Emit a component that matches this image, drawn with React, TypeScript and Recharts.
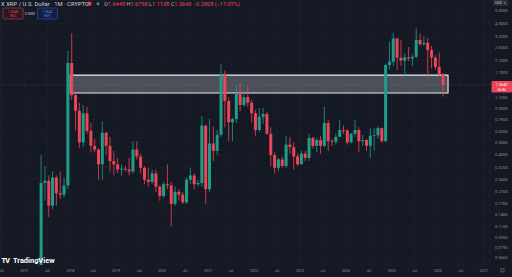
import React from "react"
import {
  ComposedChart,
  Bar,
  XAxis,
  YAxis,
  CartesianGrid,
  ReferenceArea,
  ReferenceLine
} from "recharts"

const W = 512
const H = 277
const BG = "#151924"
const GRID = "#1f2330"
const UP = "#1f9d88"
const DOWN = "#ec4458"
const AXIS_TEXT = "#8d909a"

// monthly candles, XRP / USD
const months = [
  "2017-05", "2017-06", "2017-07", "2017-08", "2017-09", "2017-10", "2017-11", "2017-12",
  "2018-01", "2018-02", "2018-03", "2018-04", "2018-05", "2018-06", "2018-07", "2018-08", "2018-09", "2018-10", "2018-11", "2018-12",
  "2019-01", "2019-02", "2019-03", "2019-04", "2019-05", "2019-06", "2019-07", "2019-08", "2019-09", "2019-10", "2019-11", "2019-12",
  "2020-01", "2020-02", "2020-03", "2020-04", "2020-05", "2020-06", "2020-07", "2020-08", "2020-09", "2020-10", "2020-11", "2020-12",
  "2021-01", "2021-02", "2021-03", "2021-04", "2021-05", "2021-06", "2021-07", "2021-08", "2021-09", "2021-10", "2021-11", "2021-12",
  "2022-01", "2022-02", "2022-03", "2022-04", "2022-05", "2022-06", "2022-07", "2022-08", "2022-09", "2022-10", "2022-11", "2022-12",
  "2023-01", "2023-02", "2023-03", "2023-04", "2023-05", "2023-06", "2023-07", "2023-08", "2023-09", "2023-10", "2023-11", "2023-12",
  "2024-01", "2024-02", "2024-03", "2024-04", "2024-05", "2024-06", "2024-07", "2024-08", "2024-09", "2024-10", "2024-11", "2024-12",
  "2025-01", "2025-02", "2025-03", "2025-04", "2025-05", "2025-06", "2025-07", "2025-08", "2025-09", "2025-10", "2025-11", "2025-12",
  "2026-01", "2026-02"
]

const opens = [
  0.055, 0.245, 0.255, 0.165, 0.27, 0.205, 0.2, 0.235,
  2.0, 1.14, 0.87, 0.5, 0.83, 0.61, 0.47, 0.44, 0.34, 0.59, 0.47, 0.36,
  0.34, 0.31, 0.315, 0.31, 0.3, 0.44, 0.39, 0.32, 0.26, 0.25, 0.29, 0.23,
  0.195, 0.24, 0.235, 0.17, 0.21, 0.2, 0.175, 0.26, 0.28, 0.24, 0.245, 0.67,
  0.22, 0.49, 0.43, 0.57, 1.63, 1.03, 0.71, 0.75, 1.18, 0.96, 1.1, 1.0,
  0.83, 0.62, 0.78, 0.82, 0.58, 0.4, 0.32, 0.37, 0.33, 0.48, 0.46, 0.39,
  0.34, 0.41, 0.38, 0.54, 0.47, 0.52, 0.47, 0.7, 0.51, 0.505, 0.55, 0.62,
  0.615, 0.5, 0.58, 0.62, 0.51, 0.52, 0.47, 0.56, 0.565, 0.64, 0.51, 1.93,
  2.05, 3.08, 2.2, 2.09, 2.21, 2.17, 2.23, 3.0, 2.78, 2.85, 2.51, 2.2,
  1.87, 1.6448
]

const highs = [
  0.4, 0.33, 0.28, 0.3, 0.28, 0.3, 0.27, 2.47,
  3.37, 1.2, 1.0, 0.96, 0.93, 0.7, 0.53, 0.45, 0.72, 0.6, 0.55, 0.43,
  0.38, 0.34, 0.33, 0.38, 0.51, 0.51, 0.41, 0.33, 0.32, 0.31, 0.31, 0.235,
  0.25, 0.34, 0.25, 0.23, 0.22, 0.21, 0.27, 0.32, 0.29, 0.26, 0.79, 0.68,
  0.75, 0.66, 0.62, 1.96, 1.75, 1.1, 0.77, 1.35, 1.41, 1.24, 1.35, 1.05,
  0.88, 0.91, 0.91, 0.85, 0.65, 0.42, 0.38, 0.39, 0.56, 0.55, 0.5, 0.41,
  0.43, 0.43, 0.58, 0.55, 0.54, 0.56, 0.93, 0.74, 0.53, 0.58, 0.74, 0.67,
  0.63, 0.59, 0.74, 0.65, 0.57, 0.53, 0.64, 0.64, 0.66, 0.645, 1.98, 2.91,
  3.4, 3.1, 3.0, 2.36, 2.65, 2.34, 3.66, 3.33, 3.18, 3.1, 2.7, 2.3,
  2.41, 1.6758
]

const lows = [
  0.052, 0.18, 0.135, 0.155, 0.165, 0.185, 0.19, 0.22,
  1.05, 0.62, 0.45, 0.46, 0.58, 0.42, 0.42, 0.26, 0.26, 0.4, 0.3, 0.28,
  0.29, 0.28, 0.3, 0.28, 0.29, 0.37, 0.29, 0.24, 0.23, 0.24, 0.21, 0.18,
  0.19, 0.22, 0.115, 0.165, 0.18, 0.17, 0.17, 0.24, 0.22, 0.23, 0.23, 0.17,
  0.21, 0.36, 0.4, 0.55, 0.65, 0.51, 0.51, 0.7, 0.86, 0.93, 0.93, 0.71,
  0.56, 0.6, 0.69, 0.57, 0.33, 0.29, 0.3, 0.32, 0.32, 0.41, 0.31, 0.33,
  0.34, 0.36, 0.36, 0.45, 0.42, 0.41, 0.46, 0.43, 0.47, 0.48, 0.55, 0.58,
  0.48, 0.49, 0.55, 0.42, 0.47, 0.43, 0.38, 0.43, 0.53, 0.5, 0.5, 1.8,
  1.9, 1.77, 1.9, 1.61, 2.07, 1.9, 2.17, 2.7, 2.7, 1.55, 1.82, 1.77,
  1.6, 1.1138
]

const closes = [
  0.245, 0.255, 0.165, 0.27, 0.205, 0.2, 0.235, 2.0,
  1.14, 0.87, 0.5, 0.83, 0.61, 0.47, 0.44, 0.34, 0.59, 0.47, 0.36, 0.34,
  0.31, 0.315, 0.31, 0.3, 0.44, 0.39, 0.32, 0.26, 0.25, 0.29, 0.23, 0.195,
  0.24, 0.235, 0.17, 0.21, 0.2, 0.175, 0.26, 0.28, 0.24, 0.245, 0.67, 0.22,
  0.49, 0.43, 0.57, 1.63, 1.03, 0.71, 0.75, 1.18, 0.96, 1.1, 1.0, 0.83,
  0.62, 0.78, 0.82, 0.58, 0.4, 0.32, 0.37, 0.33, 0.48, 0.46, 0.39, 0.34,
  0.41, 0.38, 0.54, 0.47, 0.52, 0.47, 0.7, 0.51, 0.505, 0.55, 0.62, 0.615,
  0.5, 0.58, 0.62, 0.51, 0.52, 0.47, 0.56, 0.565, 0.64, 0.51, 1.93, 2.05,
  3.08, 2.2, 2.09, 2.21, 2.17, 2.23, 3.0, 2.78, 2.85, 2.51, 2.2, 1.87,
  1.6448, 1.364
]

const priceTicks = [
  5, 4, 3.2, 2.6, 2.1, 1.7, 1.1, 0.9, 0.75, 0.6, 0.5, 0.4, 0.32, 0.26,
  0.21, 0.17, 0.14, 0.115, 0.095, 0.079, 0.066
]

const timeLabels = [
  "Jul", "2017", "Jul", "2018", "Jul", "2019", "Jul", "2020", "Jul", "2021", "Jul",
  "2022", "Jul", "2023", "Jul", "2024", "Jul", "2025", "Jul", "2026", "Jul", "2027"
]

const lastPrice = 1.364
const zoneLow = 1.185
const zoneHigh = 1.62

// months counted from Jan 2017
const monthIndex = (s: string) => {
  const [y, m] = s.split("-").map(Number)
  return (y - 2017) * 12 + (m - 1)
}

const data = months.map((mo, i) => ({
  m: monthIndex(mo),
  open: opens[i],
  high: highs[i],
  low: lows[i],
  close: closes[i],
  range: [lows[i], highs[i]]
}))

// tick sits on the first day of the month (half a slot left of the candle)
const timeTicks = timeLabels.map((_, i) => -6.5 + i * 6)

const Candle = (props: any) => {
  const { x, y, width, height, payload } = props
  if (!payload || height == null) return null
  const { open, close, high, low } = payload
  const top = Math.min(y, y + height)
  const span = Math.abs(height)
  const lh = Math.log(high)
  const ll = Math.log(low)
  const py = (v: number) => top + ((lh - Math.log(v)) / (lh - ll)) * span
  const color = close >= open ? UP : DOWN
  const bTop = py(Math.max(open, close))
  const bBot = py(Math.min(open, close))
  const cx = x + width / 2
  return (
    <g>
      <line x1={cx} x2={cx} y1={top} y2={top + span} stroke={color} strokeWidth={0.8} />
      <rect x={x} y={bTop} width={width} height={Math.max(bBot - bTop, 0.8)} fill={color} />
    </g>
  )
}

const PriceTick = (props: any) => {
  const { y, payload } = props
  return (
    <text x={495} y={y + 1.4} fontSize={4.1} fill={AXIS_TEXT} fontFamily="Roboto">
      {Number(payload.value).toFixed(4)}
    </text>
  )
}

const TimeTick = (props: any) => {
  const { x, index } = props
  return (
    <text x={x} y={271.5} fontSize={3.6} fill={AXIS_TEXT} textAnchor="middle" fontFamily="Roboto">
      {timeLabels[index] ?? ""}
    </text>
  )
}

function Overlay() {
  const f = "Roboto"
  return (
    <svg width={W} height={H} style={{ position: "absolute", left: 0, top: 0, pointerEvents: "none" }}>
      <text x={1} y={6} fontSize={5.9} fill="#d1d4dc" fontFamily={f}>
        X XRP / U.S. Dollar · 1M · CRYPTO
      </text>
      <rect x={87.5} y={1.8} width={3.8} height={3.8} rx={0.6} fill={DOWN} />
      <circle cx={98} cy={3.7} r={1.5} fill={UP} />
      <text x={104} y={6} fontSize={5.6} fontFamily={f} fill={DOWN}>
        <tspan fill="#b2b5be">O</tspan>1.6448 <tspan fill="#b2b5be">H</tspan>1.6758{" "}
        <tspan fill="#b2b5be">L</tspan>1.1138 <tspan fill="#b2b5be">C</tspan>1.3640 −0.2808 (−17.07%)
      </text>

      <rect x={3} y={8} width={20} height={11} rx={1} fill="#2a1820" stroke={DOWN} strokeWidth={0.5} />
      <text x={13} y={12.8} fontSize={3.4} fill={DOWN} textAnchor="middle" fontFamily={f}>1.3640</text>
      <text x={13} y={17.2} fontSize={3.2} fill={DOWN} textAnchor="middle" fontFamily={f}>SELL</text>
      <text x={30} y={15} fontSize={3.2} fill="#d1d4dc" textAnchor="middle" fontFamily={f}>0.0000</text>
      <rect x={37.5} y={8} width={20} height={11} rx={1} fill="#161e3c" stroke="#2962ff" strokeWidth={0.5} />
      <text x={47.5} y={12.8} fontSize={3.4} fill="#5b84ff" textAnchor="middle" fontFamily={f}>1.3642</text>
      <text x={47.5} y={17.2} fontSize={3.2} fill="#5b84ff" textAnchor="middle" fontFamily={f}>BUY</text>

      <rect x={493} y={0} width={15} height={6} rx={0.8} fill="#2a2e39" />
      <text x={495} y={4.3} fontSize={3.6} fill="#d1d4dc" fontFamily={f}>USD</text>
      <text x={504} y={4.3} fontSize={3.2} fill="#d1d4dc" fontFamily={f}>▾</text>

      <rect x={491.5} y={81} width={20.5} height={11.5} rx={1} fill={DOWN} />
      <text x={501.7} y={85.8} fontSize={3.8} fill="#ffffff" textAnchor="middle" fontFamily={f}>1.3640</text>
      <text x={501.7} y={90.6} fontSize={3.4} fill="#ffffff" textAnchor="middle" fontFamily={f}>5d 8h</text>

      <text x={1.5} y={262.6} fontSize={7.2} fontWeight={800} fill="#ffffff" fontFamily={f} letterSpacing={-0.8}>
        TV
      </text>
      <text x={13} y={262.6} fontSize={7.4} fontWeight={700} fill="#ffffff" fontFamily={f}>
        TradingView
      </text>

      <circle cx={502.5} cy={270.3} r={1.8} fill="none" stroke={AXIS_TEXT} strokeWidth={0.6} />
    </svg>
  )
}

export default function App() {
  return (
    <div style={{ position: "fixed", left: 0, top: 0, width: W, height: H, background: BG }}>
      <ComposedChart
        width={W}
        height={H}
        data={data}
        margin={{ top: 0, right: 0, bottom: 0, left: 0 }}
      >
        <CartesianGrid stroke={GRID} strokeWidth={0.6} />
        <XAxis
          dataKey="m"
          type="number"
          domain={[-6.84, 121.16]}
          allowDataOverflow
          ticks={timeTicks}
          interval={0}
          tick={<TimeTick />}
          axisLine={false}
          tickLine={false}
          height={12}
        />
        <YAxis
          orientation="right"
          width={22}
          scale="log"
          domain={[0.0584, 6.03]}
          allowDataOverflow
          ticks={priceTicks}
          interval={0}
          tick={<PriceTick />}
          axisLine={false}
          tickLine={false}
        />
        <ReferenceLine y={lastPrice} stroke="#9aa0ab" strokeOpacity={0.45} strokeDasharray="1 1.5" strokeWidth={0.6} />
        <Bar dataKey="range" barSize={3} shape={<Candle />} isAnimationActive={false} />
        <ReferenceArea
          x1={11.5}
          x2={110.2}
          y1={zoneLow}
          y2={zoneHigh}
          fill="#c9ccd3"
          fillOpacity={0.3}
          stroke="#eceef2"
          strokeWidth={1.1}
        />
      </ComposedChart>
      <Overlay />
    </div>
  )
}
